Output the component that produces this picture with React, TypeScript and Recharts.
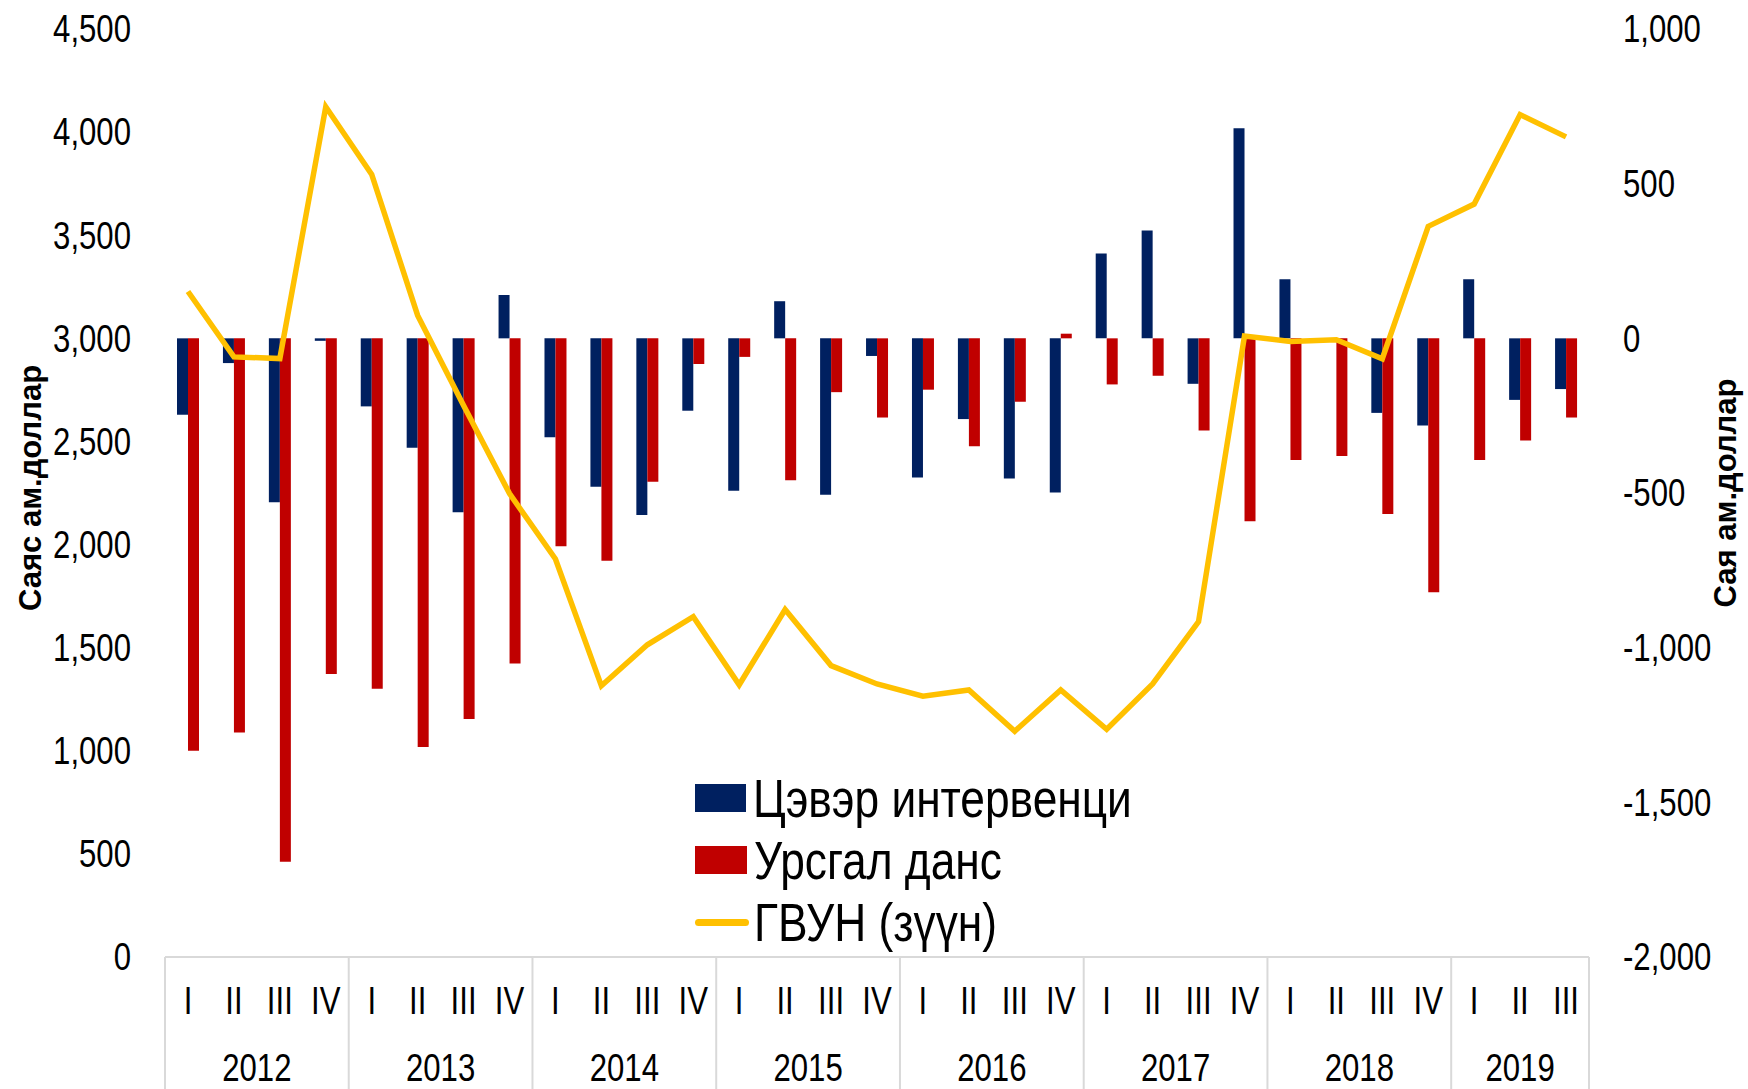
import React from 'react';
import { ComposedChart, Bar, Line, XAxis, YAxis, Legend } from 'recharts';

const years = ['2012', '2013', '2014', '2015', '2016', '2017', '2018', '2019'];
const quartersPerYear = [4, 4, 4, 4, 4, 4, 4, 3];
const quarterNames = ['I', 'II', 'III', 'IV'];
const seriesNames = ['Цэвэр интервенци', 'Урсгал данс', 'ГВУН (зүүн)'];

// Цэвэр интервенци (right axis)
const intervention = [
  -247, -80, -530, -8,
  -220, -354, -562, 140,
  -320, -480, -571, -234,
  -493, 120, -506, -57,
  -450, -261, -453, -498,
  274, 349, -147, 679,
  191, 0, -241, -282,
  191, -199, -164,
];

// Урсгал данс (right axis)
const currentAccount = [
  -1333, -1274, -1692, -1085,
  -1133, -1321, -1231, -1051,
  -672, -719, -464, -83,
  -60, -459, -174, -256,
  -166, -349, -205, 15,
  -149, -121, -298, -591,
  -393, -380, -568, -821,
  -393, -330, -256,
];

// ГВУН (left axis)
const reserves = [
  3227, 2910, 2902, 4123,
  3795, 3111, 2674, 2247,
  1930, 1315, 1514, 1650,
  1320, 1685, 1413, 1324,
  1265, 1295, 1095, 1295,
  1104, 1324, 1626, 3011,
  2985, 2993, 2901, 3543,
  3651, 4085, 3977,
];

const leftTicks = [0, 500, 1000, 1500, 2000, 2500, 3000, 3500, 4000, 4500];
const rightTicks = [-2000, -1500, -1000, -500, 0, 500, 1000];

const rows: { key: string; q: string; year: string; qi: number; n: number }[] = [];
years.forEach((y, yi) => {
  for (let k = 0; k < quartersPerYear[yi]; k++) {
    rows.push({ key: `${y}-${quarterNames[k]}`, q: quarterNames[k], year: y, qi: k, n: quartersPerYear[yi] });
  }
});

const data = rows.map((r, i) => ({
  ...r,
  intervention: intervention[i],
  currentAccount: currentAccount[i],
  reserves: reserves[i],
}));

const W = 1748;
const H = 1089;
const LEFT_W = 165;
const RIGHT_W = 159;
const TOP = 29;
const X_H = 132;
const BAND = (W - LEFT_W - RIGHT_W) / data.length;
const FONT = "'Liberation Sans', Arial, sans-serif";
const NARROW = 0.82; // no Arial Narrow here, squeeze Liberation Sans instead
const TICK_SIZE = 38;
const GRID = '#d9d9d9';

const fmt = (v: number) => v.toLocaleString('en-US');

// condensed text, anchored at (x, y)
const NText = ({ x, y, anchor, size, children }: any) => (
  <text
    transform={`translate(${x}, ${y}) scale(${NARROW}, 1)`}
    x={0}
    y={0}
    dy="0.35em"
    textAnchor={anchor}
    fontFamily={FONT}
    fontSize={size}
    fill="#000"
  >
    {children}
  </text>
);

const LeftTick = (props: any) => (
  <NText x={props.x} y={props.y} anchor="end" size={TICK_SIZE}>
    {fmt(props.payload.value)}
  </NText>
);

const RightTick = (props: any) => (
  <NText x={props.x} y={props.y} anchor="start" size={TICK_SIZE}>
    {fmt(props.payload.value)}
  </NText>
);

const QuarterTick = (props: any) => {
  const { x, y, index } = props;
  const r = data[index];
  if (!r) return null;
  const parts: React.ReactNode[] = [];
  parts.push(
    <NText key="q" x={x} y={y + 44} anchor="middle" size={TICK_SIZE}>
      {r.q}
    </NText>
  );
  if (r.qi === 0) {
    const cx = x + ((r.n - 1) / 2) * BAND;
    parts.push(
      <NText key="y" x={cx} y={y + 111} anchor="middle" size={TICK_SIZE}>
        {r.year}
      </NText>
    );
    parts.push(<line key="s" x1={x - BAND / 2} x2={x - BAND / 2} y1={y} y2={H} stroke={GRID} strokeWidth={2} />);
  }
  if (index === data.length - 1) {
    parts.push(<line key="e" x1={x + BAND / 2} x2={x + BAND / 2} y1={y} y2={H} stroke={GRID} strokeWidth={2} />);
  }
  return <g>{parts}</g>;
};

const LegendBox = (props: any) => {
  const items = [...(props.payload || [])].sort(
    (a: any, b: any) => seriesNames.indexOf(a.value) - seriesNames.indexOf(b.value)
  );
  return (
    <div style={{ fontFamily: FONT, fontSize: 54, color: '#000' }}>
      {items.map((p: any) => (
        <div key={p.value} style={{ display: 'flex', alignItems: 'center', height: 62 }}>
          {p.type === 'line' ? (
            <div style={{ width: 54, height: 7, background: p.color, borderRadius: 4 }} />
          ) : (
            <div style={{ width: 52, height: 28, background: p.color }} />
          )}
          <span
            style={{
              marginLeft: p.type === 'line' ? 5 : 7,
              lineHeight: '62px',
              whiteSpace: 'nowrap',
              display: 'inline-block',
              transform: `scaleX(${NARROW})`,
              transformOrigin: 'left center',
            }}
          >
            {p.value}
          </span>
        </div>
      ))}
    </div>
  );
};

const AxisTitle = (x: number, y: number, text: string) => () => (
  <text
    x={x}
    y={y}
    transform={`rotate(-90, ${x}, ${y})`}
    textAnchor="middle"
    dy="0.35em"
    fontFamily={FONT}
    fontWeight="bold"
    fontSize={31}
    fill="#000"
  >
    {text}
  </text>
);

const App = () => {
  return (
    <div style={{ position: 'absolute', left: 0, top: 0, background: '#fff' }}>
      <ComposedChart
        width={W}
        height={H}
        data={data}
        margin={{ top: TOP, right: 0, bottom: 0, left: 0 }}
        barGap={0}
      >
        <XAxis
          dataKey="key"
          height={X_H}
          interval={0}
          tickLine={false}
          tickSize={0}
          tickMargin={0}
          axisLine={{ stroke: GRID, strokeWidth: 2 }}
          tick={<QuarterTick />}
        />
        <YAxis
          yAxisId="left"
          width={LEFT_W}
          domain={[0, 4500]}
          ticks={leftTicks}
          axisLine={false}
          tickLine={false}
          tickSize={0}
          tickMargin={34}
          tick={<LeftTick />}
          label={{ content: AxisTitle(30, 488, 'Саяс ам.доллар') }}
        />
        <YAxis
          yAxisId="right"
          orientation="right"
          width={RIGHT_W}
          domain={[-2000, 1000]}
          ticks={rightTicks}
          axisLine={false}
          tickLine={false}
          tickSize={0}
          tickMargin={34}
          tick={<RightTick />}
          label={{ content: AxisTitle(1725, 493, 'Сая ам.доллар') }}
        />
        <Legend
          layout="vertical"
          align="center"
          verticalAlign="middle"
          content={<LegendBox />}
          wrapperStyle={{ left: 695, top: 767, width: 520, height: 186 }}
        />
        <Bar
          yAxisId="right"
          dataKey="intervention"
          name={seriesNames[0]}
          fill="#002060"
          barSize={11}
          isAnimationActive={false}
        />
        <Bar
          yAxisId="right"
          dataKey="currentAccount"
          name={seriesNames[1]}
          fill="#C00000"
          barSize={11}
          isAnimationActive={false}
        />
        <Line
          yAxisId="left"
          type="linear"
          dataKey="reserves"
          name={seriesNames[2]}
          stroke="#FFC000"
          strokeWidth={5.5}
          dot={false}
          activeDot={false}
          isAnimationActive={false}
        />
      </ComposedChart>
    </div>
  );
};

export default App;
